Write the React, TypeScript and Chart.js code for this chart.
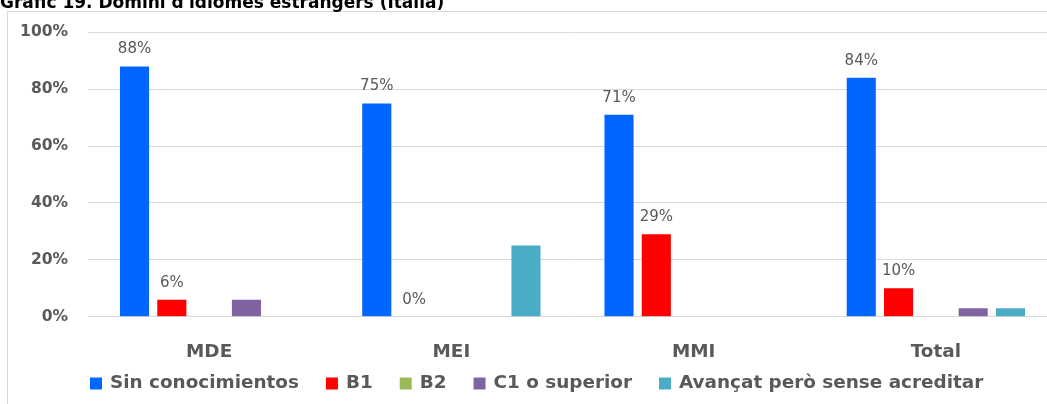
import React, { useEffect, useRef } from "react";
import { Chart, registerables } from "chart.js";

Chart.register(...registerables);

const titleText = "Gràfic 19. Domini d'idiomes estrangers (Itàlia)";
const categories = ["MDE", "MEI", "MMI", "Total"];
const seriesNames = ["Sin conocimientos", "B1", "B2", "C1 o superior", "Avançat però sense acreditar"];
const sinConocimientos = [88, 75, 71, 84];
const b1 = [6, 0, 29, 10];
const b2 = [0, 0, 0, 0];
const c1Superior = [6, 0, 0, 3];
const avancat = [0, 25, 0, 3];
const seriesColors = ["#0066FF", "#FF0000", "#9BBB59", "#8064A2", "#4BACC6"];
const labelledSeries = [0, 1];
const yMin = 0;
const yMax = 100;
const yStep = 20;

const W = 1070;
const H = 404;
const FONT = "'DejaVu Sans', Verdana, sans-serif";

const framePlugin = {
  id: "frame",
  beforeDraw(chart: any) {
    const ctx = chart.ctx;
    ctx.save();
    ctx.fillStyle = "#ffffff";
    ctx.fillRect(0, 0, chart.width, chart.height);
    ctx.strokeStyle = "#d9d9d9";
    ctx.lineWidth = 1;
    ctx.strokeRect(7.5, 11.5, 2000, 1000);
    ctx.fillStyle = "#000000";
    ctx.font = `bold 17px ${FONT}`;
    ctx.textBaseline = "alphabetic";
    ctx.textAlign = "left";
    ctx.fillText(titleText, 0, 8);
    ctx.restore();
  },
};

const valueLabelPlugin = {
  id: "valueLabels",
  afterDatasetsDraw(chart: any) {
    const ctx = chart.ctx;
    ctx.save();
    ctx.font = `15px ${FONT}`;
    ctx.fillStyle = "#595959";
    ctx.textAlign = "center";
    ctx.textBaseline = "alphabetic";
    labelledSeries.forEach((di) => {
      const meta = chart.getDatasetMeta(di);
      const data = chart.data.datasets[di].data;
      meta.data.forEach((bar: any, i: number) => {
        ctx.fillText(`${data[i]}%`, bar.x, bar.y - 13);
      });
    });
    ctx.restore();
  },
};

const legendPlugin = {
  id: "customLegend",
  afterDraw(chart: any) {
    const ctx = chart.ctx;
    ctx.save();
    ctx.font = `bold 18.4px ${FONT}`;
    ctx.textAlign = "left";
    ctx.textBaseline = "alphabetic";
    let x = 90;
    const baseline = 387.5;
    chart.data.datasets.forEach((ds: any) => {
      ctx.fillStyle = ds.backgroundColor;
      ctx.fillRect(x, 377.5, 12, 12);
      ctx.fillStyle = "#595959";
      const tx = x + 20;
      ctx.fillText(ds.label, tx, baseline);
      x = tx + ctx.measureText(ds.label).width + 27;
    });
    ctx.restore();
  },
};

export default function App() {
  const canvasRef = useRef<HTMLCanvasElement | null>(null);

  useEffect(() => {
    const canvas = canvasRef.current;
    if (!canvas) return;
    const values = [sinConocimientos, b1, b2, c1Superior, avancat];
    const chart = new Chart(canvas, {
      type: "bar",
      data: {
        labels: categories,
        datasets: seriesNames.map((name, i) => ({
          label: name,
          data: values[i],
          backgroundColor: seriesColors[i],
          borderWidth: 0,
          categoryPercentage: 0.77,
          barPercentage: 0.78,
        })),
      },
      options: {
        animation: false,
        responsive: false,
        devicePixelRatio: 1,
        layout: { padding: { left: 0, top: 32.3, right: 13, bottom: 0 } },
        plugins: {
          legend: { display: false },
          title: { display: false },
          tooltip: { enabled: false },
        },
        scales: {
          x: {
            grid: { display: false, drawTicks: false },
            border: { display: false },
            ticks: {
              color: "#595959",
              font: { family: FONT, size: 18.4, weight: "bold" },
              padding: 24,
              maxRotation: 0,
            },
            afterFit: (s: any) => {
              s.height = H - 316.7;
            },
          },
          y: {
            min: yMin,
            max: yMax,
            grid: { color: "#d9d9d9", drawTicks: false },
            border: { display: false },
            ticks: {
              stepSize: yStep,
              color: "#595959",
              font: { family: FONT, size: 15.5, weight: "bold" },
              padding: 20,
              callback: (v: any) => `${v}%`,
            },
            afterFit: (s: any) => {
              s.width = 88;
            },
          },
        },
      },
      plugins: [framePlugin, valueLabelPlugin, legendPlugin],
    });
    return () => chart.destroy();
  }, []);

  return (
    <div
      style={{
        position: "fixed",
        left: 0,
        top: 0,
        width: 1047,
        height: 404,
        overflow: "hidden",
        background: "#fff",
      }}
    >
      <canvas ref={canvasRef} width={W} height={H} style={{ width: W, height: H, display: "block" }} />
    </div>
  );
}
